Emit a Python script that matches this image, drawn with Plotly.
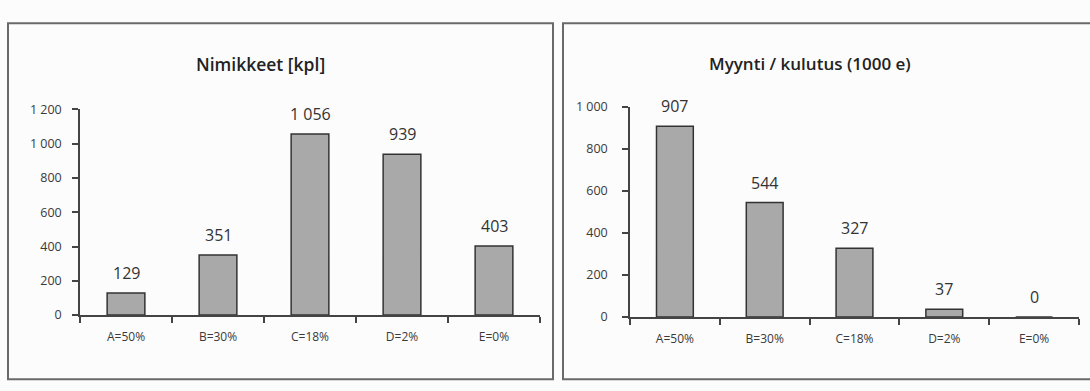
import plotly.graph_objects as go

W, H = 1090, 391

categories = ["A=50%", "B=30%", "C=18%", "D=2%", "E=0%"]
items_values = [129, 351, 1056, 939, 403]
sales_values = [907, 544, 327, 37, 0]

left_title = "Nimikkeet [kpl]"
right_title = "Myynti / kulutus (1000 e)"

left_ticks = [0, 200, 400, 600, 800, 1000, 1200]
left_ticktext = ["0", "200", "400", "600", "800", "1 000", "1 200"]
right_ticks = [0, 200, 400, 600, 800, 1000]
right_ticktext = ["0", "200", "400", "600", "800", "1 000"]


def fmt(v):
    return f"{v:,}".replace(",", " ")


FONT = "Open Sans, Noto Sans, sans-serif"
TXT = "#3a3a3a"
BAR_FILL = "#a9a9a9"
BAR_LINE = "#333333"

fig = go.Figure()
fig.add_trace(go.Bar(
    x=categories, y=items_values, xaxis="x", yaxis="y",
    marker=dict(color=BAR_FILL, line=dict(color=BAR_LINE, width=1.5)),
    width=0.41, showlegend=False,
))
fig.add_trace(go.Bar(
    x=categories, y=sales_values, xaxis="x2", yaxis="y2",
    marker=dict(color=BAR_FILL, line=dict(color=BAR_LINE, width=1.5)),
    width=0.41, showlegend=False,
))


def px_x(p):
    return p / W


def px_y(p):
    return (H - p) / H


axis_common = dict(
    showgrid=False, zeroline=False, showline=True, linecolor="#444", linewidth=1.5,
    ticks="outside", ticklen=6, tickcolor="#444", tickwidth=1.5,
)

annotations = [
    dict(text=left_title, x=px_x(260), y=px_y(58), xref="paper", yref="paper",
         xanchor="center", yanchor="middle", showarrow=False,
         font=dict(size=17.5, color="#222", family=FONT, weight=600)),
    dict(text=right_title, x=px_x(810), y=px_y(57), xref="paper", yref="paper",
         xanchor="center", yanchor="middle", showarrow=False,
         font=dict(size=17, color="#222", family=FONT, weight=600)),
]
for c, v in zip(categories, items_values):
    annotations.append(dict(x=c, y=v, xref="x", yref="y", text=fmt(v), showarrow=False,
                            xanchor="center", yanchor="bottom", yshift=7,
                            font=dict(size=16, color="#333", family=FONT)))
for c, v in zip(categories, sales_values):
    annotations.append(dict(x=c, y=v, xref="x2", yref="y2", text=fmt(v), showarrow=False,
                            xanchor="center", yanchor="bottom", yshift=7,
                            font=dict(size=16, color="#333", family=FONT)))

xfont = dict(size=12, color=TXT, family=FONT)
yfont = dict(size=12.5, color=TXT, family=FONT)

fig.update_layout(
    width=W, height=H,
    margin=dict(l=0, r=0, t=0, b=0),
    paper_bgcolor="#fcfcfc", plot_bgcolor="rgba(0,0,0,0)",
    xaxis=dict(domain=[px_x(80), px_x(540)], anchor="y", type="category",
               range=[-0.5, 4.5], tickson="boundaries", ticklabelstandoff=10,
               tickfont=xfont, **axis_common),
    yaxis=dict(domain=[px_y(320), px_y(105)], anchor="x", range=[0, 1200],
               tickvals=left_ticks, ticktext=left_ticktext, ticklabelstandoff=8,
               tickfont=yfont, **axis_common),
    xaxis2=dict(domain=[px_x(630), px_x(1079)], anchor="y2", type="category",
                range=[-0.5, 4.5], tickson="boundaries", ticklabelstandoff=10,
                tickfont=xfont, **axis_common),
    yaxis2=dict(domain=[px_y(322), px_y(102)], anchor="x2", range=[0, 1000],
                tickvals=right_ticks, ticktext=right_ticktext, ticklabelstandoff=12,
                tickfont=yfont, **axis_common),
    annotations=annotations,
    shapes=[
        dict(type="rect", xref="paper", yref="paper",
             x0=px_x(8), x1=px_x(553), y0=px_y(387), y1=px_y(15),
             line=dict(color="#6a6a6a", width=2)),
        dict(type="rect", xref="paper", yref="paper",
             x0=px_x(563), x1=px_x(1096), y0=px_y(387), y1=px_y(15),
             line=dict(color="#6a6a6a", width=2)),
    ],
)

fig.write_html("out.html")
